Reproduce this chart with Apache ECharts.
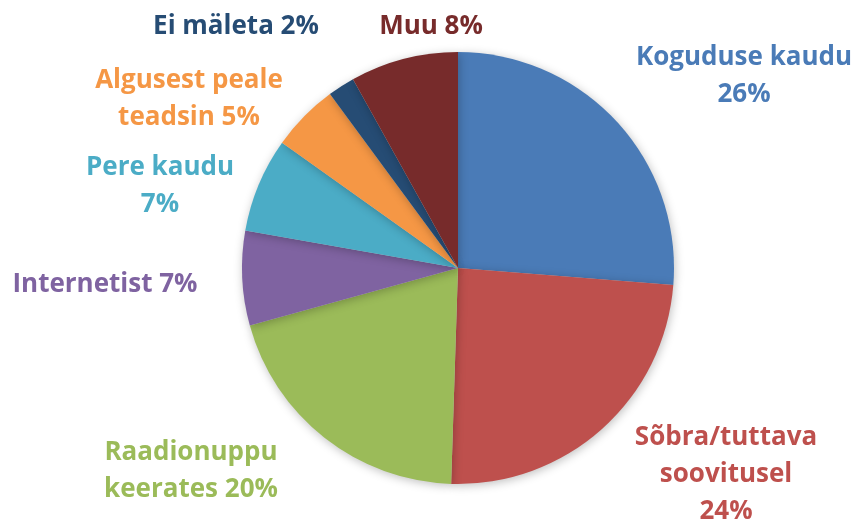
<!DOCTYPE html>
<html>
<head>
<meta charset="utf-8">
<script src="https://cdn.jsdelivr.net/npm/echarts@6/dist/echarts.min.js"></script>
<style>
  html, body { margin: 0; padding: 0; background: #fff; }
  #chart { width: 854px; height: 522px; }
</style>
</head>
<body>
<div id="chart"></div>
<script>
// andmed, päripäeva alates ülevalt
var categories = ['Koguduse kaudu', 'Sõbra/tuttava\nsoovitusel', 'Raadionuppu\nkeerates', 'Internetist',
                  'Pere kaudu', 'Algusest peale\nteadsin', 'Ei mäleta', 'Muu'];
var values = [26, 24, 20, 7, 7, 5, 2, 8];
var labelBreaks = ['\n', '\n', ' ', ' ', '\n', ' ', ' ', ' '];
var colors = ['#4a7bb7', '#be504d', '#9bbb59', '#7f63a1', '#4bacc6', '#f59745', '#264c74', '#772b2b'];

// label anchors (text block centres)
var labelPos = [[744, 76], [726, 475], [191, 471], [105, 285], [160, 186], [189, 99], [236, 27], [431, 27]];

var chart = echarts.init(document.getElementById('chart'));

var option = {
    animation: false,
    series: [{
        type: 'pie',
        center: [458, 268],
        radius: 216,
        startAngle: 90,
        clockwise: true,
        avoidLabelOverlap: false,
        itemStyle: {
            shadowBlur: 10,
            shadowColor: 'rgba(0,0,0,0.25)',
            shadowOffsetX: 1,
            shadowOffsetY: 2
        },
        label: {
            show: true,
            fontFamily: 'Open Sans',
            fontWeight: 'bold',
            fontSize: 26,
            lineHeight: 37,
            align: 'center',
            formatter: function (p) {
                return p.name + labelBreaks[p.dataIndex] + p.value + '%';
            }
        },
        labelLine: { show: false },
        labelLayout: function (p) {
            var pos = labelPos[p.dataIndex];
            return { x: pos[0], y: pos[1], align: 'center', verticalAlign: 'middle' };
        },
        data: categories.map(function (c, i) {
            return {
                name: c,
                value: values[i],
                itemStyle: { color: colors[i] },
                label: { color: colors[i] }
            };
        })
    }]
};

chart.setOption(option);
</script>
</body>
</html>
